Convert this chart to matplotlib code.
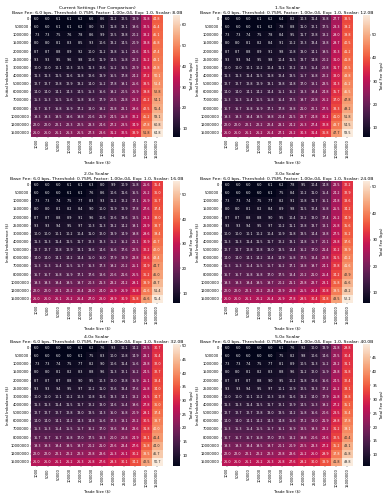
import matplotlib
matplotlib.use('Agg')
import matplotlib.pyplot as plt
import seaborn as sns
import pandas as pd

trade_sizes = [1000, 5000, 50000, 100000, 200000, 500000, 1000000, 2000000,
               2500000, 5000000, 10000000, 15000000]
imbalances = [0, 500000, 1000000, 1500000, 2000000, 2500000, 3000000, 4000000,
              5000000, 6000000, 7000000, 8000000, 10000000, 12000000, 15000000]

fees_1x = [
    [6.0, 6.0, 6.1, 6.1, 6.2, 6.6, 8.6, 11.2, 12.5, 18.9, 31.8, 44.8],
    [6.0, 6.0, 6.1, 6.1, 6.2, 8.0, 9.2, 11.8, 13.1, 19.6, 32.5, 45.4],
    [7.3, 7.3, 7.5, 7.6, 7.8, 8.6, 9.9, 12.5, 13.8, 20.2, 33.2, 46.1],
    [8.0, 8.0, 8.1, 8.3, 8.5, 9.3, 10.6, 13.2, 14.5, 20.9, 33.8, 46.8],
    [8.7, 8.7, 8.8, 8.9, 9.2, 10.0, 11.2, 13.8, 15.1, 21.6, 34.5, 47.4],
    [9.3, 9.3, 9.5, 9.6, 9.8, 10.6, 11.9, 14.5, 15.8, 22.2, 35.2, 48.1],
    [10.0, 10.0, 10.1, 10.3, 10.5, 11.3, 12.6, 15.2, 16.5, 22.9, 35.8, 48.8],
    [11.3, 11.3, 11.5, 11.6, 11.8, 12.6, 13.9, 16.5, 17.8, 24.2, 37.2, 50.1],
    [12.7, 12.7, 12.8, 12.9, 13.2, 14.0, 15.2, 17.8, 19.1, 25.6, 38.5, 51.4],
    [14.0, 14.0, 14.1, 14.3, 14.5, 15.3, 16.6, 19.2, 20.5, 26.9, 39.8, 52.8],
    [15.3, 15.3, 15.5, 15.6, 15.8, 16.6, 17.9, 20.5, 21.8, 28.2, 41.2, 54.1],
    [16.7, 16.7, 16.8, 16.9, 17.2, 18.0, 19.2, 21.8, 23.1, 29.6, 42.5, 55.4],
    [19.3, 19.3, 19.5, 19.6, 19.8, 20.6, 21.9, 24.5, 25.8, 32.2, 45.2, 58.1],
    [22.0, 22.0, 22.1, 22.3, 22.5, 23.3, 24.6, 27.2, 28.5, 34.9, 47.8, 60.8],
    [26.0, 26.0, 26.1, 26.3, 26.5, 27.3, 28.6, 31.2, 32.5, 38.9, 51.8, 64.8],
]

fees_15x = [
    [6.0, 6.0, 6.0, 6.1, 6.2, 6.4, 8.2, 10.3, 11.4, 16.8, 27.7, 38.5],
    [6.0, 6.0, 6.0, 6.1, 6.2, 7.8, 8.8, 11.0, 12.1, 17.5, 28.3, 39.2],
    [7.3, 7.3, 7.4, 7.5, 7.8, 8.4, 9.5, 11.7, 12.8, 18.2, 29.0, 39.8],
    [8.0, 8.0, 8.1, 8.2, 8.4, 9.1, 10.2, 12.3, 13.4, 18.8, 29.7, 40.5],
    [8.7, 8.7, 8.8, 8.9, 9.1, 9.8, 10.8, 13.0, 14.1, 19.5, 30.3, 41.2],
    [9.3, 9.3, 9.4, 9.5, 9.8, 10.4, 11.5, 13.7, 14.8, 20.2, 31.0, 41.8],
    [10.0, 10.0, 10.1, 10.2, 10.4, 11.1, 12.2, 14.3, 15.4, 20.8, 31.7, 42.5],
    [11.3, 11.3, 11.4, 11.5, 11.8, 12.4, 13.5, 15.7, 16.8, 22.2, 33.0, 43.8],
    [12.7, 12.7, 12.8, 12.9, 13.1, 13.8, 14.8, 17.0, 18.1, 23.5, 34.3, 45.2],
    [14.0, 14.0, 14.1, 14.2, 14.4, 15.1, 16.2, 18.3, 19.4, 24.8, 35.7, 46.5],
    [15.3, 15.3, 15.4, 15.5, 15.8, 16.4, 17.5, 19.7, 20.8, 26.2, 37.0, 47.8],
    [16.7, 16.7, 16.8, 16.9, 17.1, 17.8, 18.8, 21.0, 22.1, 27.5, 38.3, 49.2],
    [19.3, 19.3, 19.4, 19.5, 19.8, 20.4, 21.5, 23.7, 24.8, 30.2, 41.0, 51.8],
    [22.0, 22.0, 22.1, 22.2, 22.4, 23.1, 24.2, 26.3, 27.4, 32.8, 43.7, 54.5],
    [26.0, 26.0, 26.1, 26.2, 26.4, 27.1, 28.2, 30.3, 31.4, 36.8, 47.7, 58.5],
]

fees_2x = [
    [6.0, 6.0, 6.0, 6.1, 6.1, 6.3, 8.0, 9.9, 10.9, 15.8, 25.6, 35.4],
    [6.0, 6.0, 6.0, 6.1, 6.1, 7.6, 8.6, 10.6, 11.6, 16.5, 26.2, 36.0],
    [7.3, 7.3, 7.4, 7.5, 7.7, 8.3, 9.3, 11.2, 12.2, 17.1, 26.9, 36.7],
    [8.0, 8.0, 8.1, 8.2, 8.4, 9.0, 10.0, 11.9, 12.9, 17.8, 27.6, 37.4],
    [8.7, 8.7, 8.8, 8.9, 9.1, 9.6, 10.6, 12.6, 13.6, 18.5, 28.2, 38.0],
    [9.3, 9.3, 9.4, 9.5, 9.7, 10.3, 11.3, 13.2, 14.2, 19.1, 28.9, 38.7],
    [10.0, 10.0, 10.1, 10.2, 10.4, 11.0, 12.0, 13.9, 14.9, 19.8, 29.6, 39.4],
    [11.3, 11.3, 11.4, 11.5, 11.7, 12.3, 13.3, 15.2, 16.2, 21.1, 30.9, 40.7],
    [12.7, 12.7, 12.8, 12.9, 13.1, 13.6, 14.6, 16.6, 17.6, 22.5, 32.2, 42.0],
    [14.0, 14.0, 14.1, 14.2, 14.4, 15.0, 16.0, 17.9, 18.9, 23.8, 33.6, 43.4],
    [15.3, 15.3, 15.4, 15.5, 15.7, 16.3, 17.3, 19.2, 20.2, 25.1, 34.9, 44.7],
    [16.7, 16.7, 16.8, 16.9, 17.1, 17.6, 18.6, 20.6, 21.6, 26.5, 36.2, 46.0],
    [19.3, 19.3, 19.4, 19.5, 19.7, 20.3, 21.3, 23.2, 24.2, 29.1, 38.9, 48.7],
    [22.0, 22.0, 22.1, 22.2, 22.4, 23.0, 24.0, 25.9, 26.9, 31.8, 41.6, 51.4],
    [26.0, 26.0, 26.1, 26.2, 26.4, 27.0, 28.0, 29.9, 30.9, 35.8, 45.6, 55.4],
]

fees_3x = [
    [6.0, 6.0, 6.0, 6.0, 6.1, 6.2, 7.8, 9.5, 10.4, 14.8, 23.5, 32.2],
    [6.0, 6.0, 6.0, 6.0, 6.1, 7.5, 8.4, 10.2, 11.0, 15.4, 24.2, 32.9],
    [7.3, 7.3, 7.4, 7.5, 7.7, 8.2, 9.1, 10.8, 11.7, 16.1, 24.8, 33.6],
    [8.0, 8.0, 8.1, 8.2, 8.4, 8.9, 9.8, 11.5, 12.4, 16.8, 25.5, 34.2],
    [8.7, 8.7, 8.8, 8.8, 9.0, 9.5, 10.4, 12.2, 13.0, 17.4, 26.2, 34.9],
    [9.3, 9.3, 9.4, 9.5, 9.7, 10.2, 11.1, 12.8, 13.7, 18.1, 26.8, 35.6],
    [10.0, 10.0, 10.1, 10.2, 10.4, 10.9, 11.8, 13.5, 14.4, 18.8, 27.5, 36.2],
    [11.3, 11.3, 11.4, 11.5, 11.7, 12.2, 13.1, 14.8, 15.7, 20.1, 28.8, 37.6],
    [12.7, 12.7, 12.8, 12.8, 13.0, 13.5, 14.4, 16.2, 17.0, 21.4, 30.2, 38.9],
    [14.0, 14.0, 14.1, 14.2, 14.4, 14.9, 15.8, 17.5, 18.4, 22.8, 31.5, 40.2],
    [15.3, 15.3, 15.4, 15.5, 15.7, 16.2, 17.1, 18.8, 19.7, 24.1, 32.8, 41.6],
    [16.7, 16.7, 16.8, 16.8, 17.0, 17.5, 18.4, 20.2, 21.0, 25.4, 34.2, 42.9],
    [19.3, 19.3, 19.4, 19.5, 19.7, 20.2, 21.1, 22.8, 23.7, 28.1, 36.8, 45.6],
    [22.0, 22.0, 22.1, 22.2, 22.4, 22.9, 23.8, 25.5, 26.4, 30.8, 39.5, 48.2],
    [26.0, 26.0, 26.1, 26.2, 26.4, 26.9, 27.8, 29.5, 30.4, 34.8, 43.5, 52.2],
]

fees_4x = [
    [6.0, 6.0, 6.0, 6.0, 6.1, 6.2, 7.6, 9.3, 10.1, 14.2, 22.5, 30.7],
    [6.0, 6.0, 6.0, 6.0, 6.1, 7.5, 8.3, 10.0, 10.8, 14.9, 23.1, 31.4],
    [7.3, 7.3, 7.4, 7.5, 7.7, 8.2, 9.0, 10.6, 11.4, 15.6, 23.8, 32.0],
    [8.0, 8.0, 8.1, 8.2, 8.3, 8.8, 9.6, 11.3, 12.1, 16.2, 24.5, 32.7],
    [8.7, 8.7, 8.7, 8.8, 9.0, 9.5, 10.3, 12.0, 12.8, 16.9, 25.1, 33.4],
    [9.3, 9.3, 9.4, 9.5, 9.7, 10.2, 11.0, 12.6, 13.4, 17.6, 25.8, 34.0],
    [10.0, 10.0, 10.1, 10.2, 10.3, 10.8, 11.6, 13.3, 14.1, 18.2, 26.5, 34.7],
    [11.3, 11.3, 11.4, 11.5, 11.7, 12.2, 13.0, 14.6, 15.4, 19.6, 27.8, 36.0],
    [12.7, 12.7, 12.7, 12.8, 13.0, 13.5, 14.3, 16.0, 16.8, 20.9, 29.1, 37.4],
    [14.0, 14.0, 14.1, 14.2, 14.3, 14.8, 15.6, 17.3, 18.1, 22.2, 30.5, 38.7],
    [15.3, 15.3, 15.4, 15.5, 15.7, 16.2, 17.0, 18.6, 19.4, 23.6, 31.8, 40.0],
    [16.7, 16.7, 16.7, 16.8, 17.0, 17.5, 18.3, 20.0, 20.8, 24.9, 33.1, 41.4],
    [19.3, 19.3, 19.4, 19.5, 19.7, 20.2, 21.0, 22.6, 23.4, 27.6, 35.8, 44.0],
    [22.0, 22.0, 22.1, 22.2, 22.3, 22.8, 23.6, 25.3, 26.1, 30.2, 38.5, 46.7],
    [26.0, 26.0, 26.1, 26.2, 26.3, 26.8, 27.6, 29.3, 30.1, 34.2, 42.5, 50.7],
]

fees_5x = [
    [6.0, 6.0, 6.0, 6.0, 6.0, 6.1, 7.6, 9.2, 10.0, 13.9, 21.8, 29.8],
    [6.0, 6.0, 6.0, 6.0, 6.0, 7.5, 8.2, 9.8, 10.6, 14.6, 22.5, 30.4],
    [7.3, 7.3, 7.4, 7.5, 7.7, 8.1, 8.9, 10.5, 11.3, 15.2, 23.2, 31.1],
    [8.0, 8.0, 8.1, 8.2, 8.3, 8.8, 9.6, 11.2, 12.0, 15.9, 23.8, 31.8],
    [8.7, 8.7, 8.7, 8.8, 9.0, 9.5, 10.2, 11.8, 12.6, 16.6, 24.5, 32.4],
    [9.3, 9.3, 9.4, 9.5, 9.7, 10.1, 10.9, 12.5, 13.3, 17.2, 25.2, 33.1],
    [10.0, 10.0, 10.1, 10.2, 10.3, 10.8, 11.6, 13.2, 14.0, 17.9, 25.8, 33.8],
    [11.3, 11.3, 11.4, 11.5, 11.7, 12.1, 12.9, 14.5, 15.3, 19.2, 27.2, 35.1],
    [12.7, 12.7, 12.7, 12.8, 13.0, 13.5, 14.2, 15.8, 16.6, 20.6, 28.5, 36.4],
    [14.0, 14.0, 14.1, 14.2, 14.3, 14.8, 15.6, 17.2, 18.0, 21.9, 29.8, 37.8],
    [15.3, 15.3, 15.4, 15.5, 15.7, 16.1, 16.9, 18.5, 19.3, 23.2, 31.2, 39.1],
    [16.7, 16.7, 16.7, 16.8, 17.0, 17.5, 18.2, 19.8, 20.6, 24.6, 32.5, 40.4],
    [19.3, 19.3, 19.4, 19.5, 19.7, 20.1, 20.9, 22.5, 23.3, 27.2, 35.2, 43.1],
    [22.0, 22.0, 22.1, 22.2, 22.3, 22.8, 23.6, 25.2, 26.0, 29.9, 37.8, 45.8],
    [26.0, 26.0, 26.1, 26.2, 26.3, 26.8, 27.6, 29.2, 30.0, 33.9, 41.8, 49.8],
]

titles = ["Current Settings (For Comparison)", "1.5x Scalar", "2.0x Scalar",
          "3.0x Scalar", "4.0x Scalar", "5.0x Scalar"]
scalars = [8.0, 12.0, 16.0, 24.0, 32.0, 40.0]
grids = [fees_1x, fees_15x, fees_2x, fees_3x, fees_4x, fees_5x]

fig = plt.figure(figsize=(7.76, 10.0), dpi=50)

# axes boxes in figure fraction
lefts = [0.081, 0.571]
tops = [0.970, 0.638, 0.312]
w, h = 0.338, 0.244

for i, (title, scalar, grid) in enumerate(zip(titles, scalars, grids)):
    r, c = divmod(i, 2)
    ax = fig.add_axes([lefts[c], tops[r] - h, w, h])
    cax = fig.add_axes([lefts[c] + w + 0.027, tops[r] - h, 0.018, h])
    df = pd.DataFrame(grid, index=imbalances, columns=trade_sizes)
    sns.heatmap(df, ax=ax, cbar_ax=cax, annot=True, fmt='.1f',
                annot_kws={'fontsize': 4.9},
                xticklabels=trade_sizes, yticklabels=imbalances,
                cbar_kws={'label': 'Total Fee (bps)'})
    ax.set_title(f"{title}\nBase Fee: 6.0 bps, Threshold: 0.75M, Factor: 1.00e-04, "
                 f"Exp: 1.0, Scalar: {scalar:.1f}B", fontsize=6.4, pad=2,
                 linespacing=1.1)
    ax.set_xlabel('Trade Size ($)', fontsize=5.5, labelpad=3)
    ax.set_ylabel('Initial Imbalance ($)', fontsize=5.5, labelpad=2)
    ax.tick_params(axis='both', labelsize=5.3, length=2, width=0.5, pad=1)
    ax.set_xticklabels(trade_sizes, rotation=90)
    ax.set_yticklabels(imbalances, rotation=0)
    cax.tick_params(labelsize=5.5, length=2, width=0.5, pad=1)
    cax.yaxis.label.set_size(5.5)

plt.savefig('out.png', dpi=50)
